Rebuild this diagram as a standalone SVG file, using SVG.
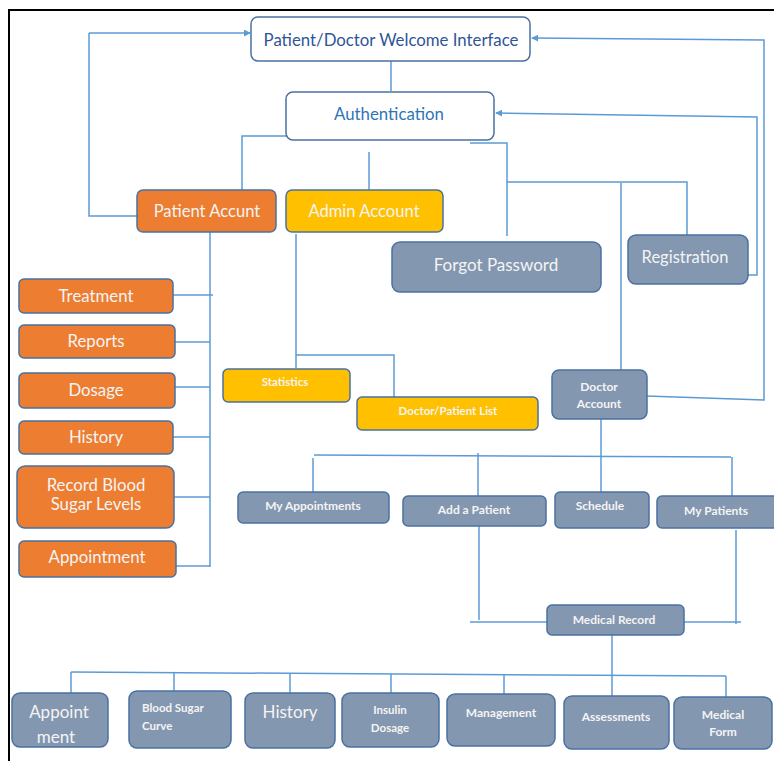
<svg xmlns="http://www.w3.org/2000/svg" width="774" height="761" viewBox="0 0 774 761">
<defs>
<style>
.box{stroke:#4A71A0;stroke-width:1.5}
.w{fill:#FFFFFF}
.o{fill:#ED7D31}
.y{fill:#FFC000}
.g{fill:#8497B0}
text{font-family:Lato,"Open Sans","Liberation Sans",sans-serif;fill:#F4F4F4;text-anchor:middle}
.s{font-size:12px;font-weight:bold}
.c{stroke:#5B9BD5;stroke-width:1.5;fill:none}
</style>
<marker id="ah" viewBox="0 0 8 8" refX="7" refY="4" markerWidth="7" markerHeight="7" orient="auto" markerUnits="userSpaceOnUse">
<path d="M0,0 L8,4 L0,8 z" fill="#5B9BD5"/>
</marker>
</defs>
<rect x="0" y="0" width="774" height="761" fill="#FFFFFF"/>
<path d="M9,761 V10 H774" stroke="#000" stroke-width="2" fill="none"/>

<g id="connectors">
<path class="c" d="M89,33 H250" marker-end="url(#ah)"/>
<path class="c" d="M137,216 H89 V33"/>
<path class="c" d="M646,396 L764,400 V40 L532,38" marker-end="url(#ah)"/>
<path class="c" d="M738,275 H757 V117 L496,113" marker-end="url(#ah)"/>
<path class="c" d="M661,248 V284"/>
<path class="c" d="M391,61 V91"/>
<path class="c" d="M292,136 H242 V190"/>
<path class="c" d="M369,152 V190"/>
<path class="c" d="M470,143 H507 V236"/>
<path class="c" d="M507,182 H687 V235"/>
<path class="c" d="M621,183 V370"/>
<path class="c" d="M210,232 V567"/>
<path class="c" d="M173,295 H213"/>
<path class="c" d="M175,342 H210"/>
<path class="c" d="M175,387 H210"/>
<path class="c" d="M173,437 H210"/>
<path class="c" d="M174,497 H210"/>
<path class="c" d="M176,566 H210"/>
<path class="c" d="M296,234 V368"/>
<path class="c" d="M296,355 H394 V397"/>
<path class="c" d="M601,419 V492"/>
<path class="c" d="M314,455 L731,457"/>
<path class="c" d="M313,458 V492"/>
<path class="c" d="M478,453 V496"/>
<path class="c" d="M732,457 V496"/>
<path class="c" d="M479,526 V620"/>
<path class="c" d="M470,622 H547"/>
<path class="c" d="M684,622 H741"/>
<path class="c" d="M736,530 V624"/>
<path class="c" d="M612,635 V696"/>
<path class="c" d="M71,672 L726,676"/>
<path class="c" d="M71,672 V693"/>
<path class="c" d="M174,673 V691"/>
<path class="c" d="M290,673 V693"/>
<path class="c" d="M391,674 V693"/>
<path class="c" d="M504,674 V694"/>
<path class="c" d="M726,676 V697"/>
</g>

<g id="welcome"><rect class="box w" x="251" y="17" width="279" height="44" rx="7"/><text x="391" y="46" font-size="16.8" style="fill:#2F5597">Patient/Doctor Welcome Interface</text></g>
<g id="authentication"><rect class="box w" x="286" y="92" width="208" height="48" rx="7"/><text x="389" y="120" font-size="16.8" style="fill:#2E75B6">Authentication</text></g>
<g id="patient-account"><rect class="box o" x="137" y="190" width="139" height="42" rx="6"/><text x="207" y="217" font-size="16.6">Patient Accunt</text></g>
<g id="admin-account"><rect class="box y" x="286" y="190" width="157" height="42" rx="6"/><text x="364" y="217" font-size="16.6">Admin Account</text></g>
<g id="forgot-password"><rect class="box g" x="392" y="242" width="209" height="50" rx="8"/><text x="496" y="271" font-size="17">Forgot Password</text></g>
<g id="registration"><rect class="box g" x="628" y="235" width="120" height="49" rx="8"/><text x="685" y="263" font-size="16.5">Registration</text></g>

<g id="treatment"><rect class="box o" x="19" y="279" width="154" height="34" rx="5"/><text x="96" y="302" font-size="16.8">Treatment</text></g>
<g id="reports"><rect class="box o" x="19" y="325" width="156" height="33" rx="5"/><text x="96" y="347" font-size="16.8">Reports</text></g>
<g id="dosage"><rect class="box o" x="19" y="373" width="156" height="35" rx="5"/><text x="96" y="396" font-size="16.8">Dosage</text></g>
<g id="history-p"><rect class="box o" x="19" y="421" width="154" height="33" rx="5"/><text x="96" y="443" font-size="16.8">History</text></g>
<g id="record-blood"><rect class="box o" x="17" y="466" width="157" height="62" rx="8"/><text x="96" y="491" font-size="16.8">Record Blood</text><text x="96" y="510" font-size="16.8">Sugar Levels</text></g>
<g id="appointment-p"><rect class="box o" x="19" y="541" width="157" height="36" rx="5"/><text x="97" y="563" font-size="16.8">Appointment</text></g>

<g id="statistics"><rect class="box y" x="223" y="369" width="127" height="33" rx="5"/><text class="s" x="285" y="386" style="font-size:11.5px">Statistics</text></g>
<g id="doctor-patient-list"><rect class="box y" x="357" y="397" width="181" height="33" rx="5"/><text class="s" x="448" y="415" style="font-size:11.5px">Doctor/Patient List</text></g>

<g id="doctor-account"><rect class="box g" x="552" y="370" width="95" height="49" rx="7"/><text class="s" x="599" y="391">Doctor</text><text class="s" x="599" y="408">Account</text></g>

<g id="my-appointments"><rect class="box g" x="238" y="492" width="151" height="31" rx="5"/><text class="s" x="313" y="510">My Appointments</text></g>
<g id="add-patient"><rect class="box g" x="403" y="496" width="143" height="30" rx="5"/><text class="s" x="474" y="514">Add a Patient</text></g>
<g id="schedule"><rect class="box g" x="555" y="492" width="94" height="36" rx="5"/><text class="s" x="600" y="510">Schedule</text></g>
<g id="my-patients"><rect class="box g" x="657" y="496" width="125" height="32" rx="5"/><text class="s" x="716" y="515">My Patients</text></g>

<g id="medical-record"><rect class="box g" x="547" y="605" width="137" height="30" rx="5"/><text class="s" x="614" y="624">Medical Record</text></g>

<g id="appointment-d"><rect class="box g" x="12" y="693" width="96" height="54" rx="8"/><text x="59" y="718" font-size="17">Appoint</text><text x="56" y="743" font-size="17">ment</text></g>
<g id="blood-sugar-curve"><rect class="box g" x="129" y="691" width="102" height="57" rx="8"/><text class="s" x="142" y="712" style="text-anchor:start;font-size:11.5px">Blood Sugar</text><text class="s" x="142" y="730" style="text-anchor:start;font-size:11.5px">Curve</text></g>
<g id="history-d"><rect class="box g" x="245" y="693" width="90" height="55" rx="8"/><text x="290" y="718" font-size="17">History</text></g>
<g id="insulin-dosage"><rect class="box g" x="342" y="693" width="97" height="54" rx="8"/><text class="s" x="390" y="714" style="font-size:11.5px">Insulin</text><text class="s" x="390" y="732" style="font-size:11.5px">Dosage</text></g>
<g id="management"><rect class="box g" x="447" y="694" width="108" height="52" rx="8"/><text class="s" x="501" y="717">Management</text></g>
<g id="assessments"><rect class="box g" x="564" y="696" width="105" height="53" rx="8"/><text class="s" x="616" y="721">Assessments</text></g>
<g id="medical-form"><rect class="box g" x="674" y="697" width="98" height="52" rx="8"/><text class="s" x="723" y="719">Medical</text><text class="s" x="723" y="736">Form</text></g>
</svg>
